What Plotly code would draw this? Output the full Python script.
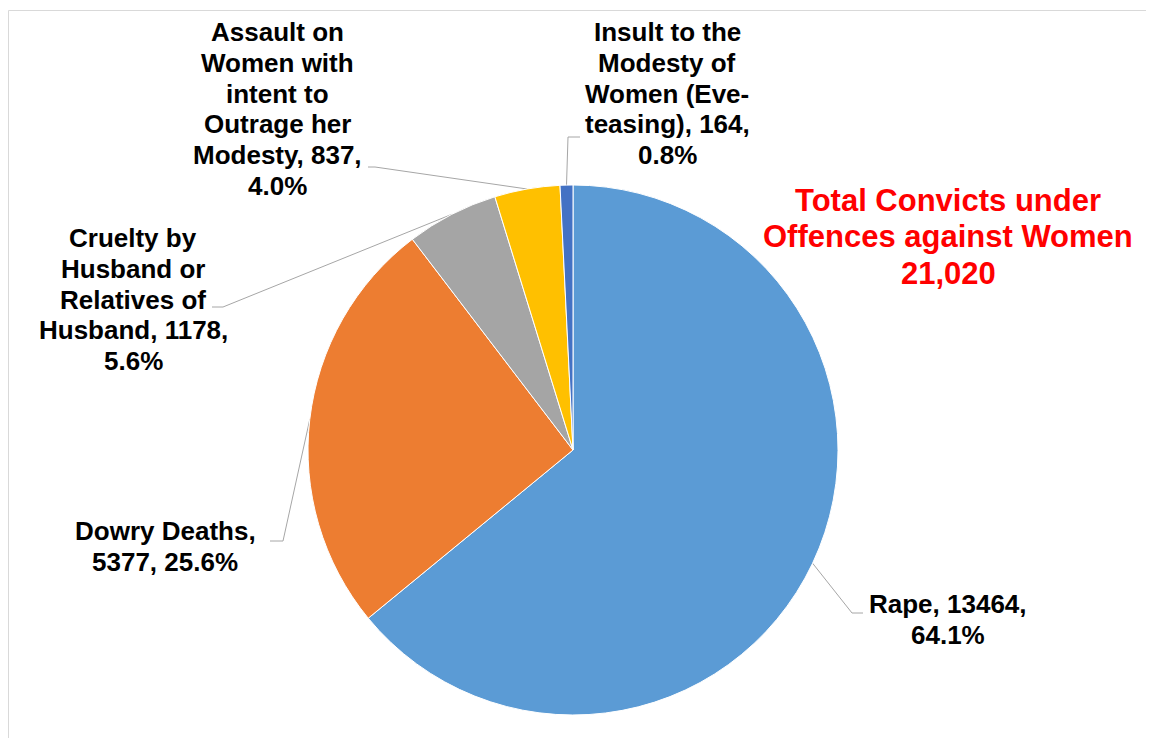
import math

import plotly.graph_objects as go

# Data
categories = [
    "Rape",
    "Dowry Deaths",
    "Cruelty by Husband or Relatives of Husband",
    "Assault on Women with intent to Outrage her Modesty",
    "Insult to the Modesty of Women (Eve-teasing)",
]
convicts = [13464, 5377, 1178, 837, 164]
label_lines = [
    ["Rape, 13464,", "64.1%"],
    ["Dowry Deaths,", "5377, 25.6%"],
    ["Cruelty by", "Husband or", "Relatives of", "Husband, 1178,", "5.6%"],
    ["Assault on", "Women with", "intent to", "Outrage her", "Modesty, 837,", "4.0%"],
    ["Insult to the", "Modesty of", "Women (Eve-", "teasing), 164,", "0.8%"],
]
total_lines = ["Total Convicts under", "Offences against Women", "21,020"]
colors = ["#5B9BD5", "#ED7D31", "#A5A5A5", "#FFC000", "#4472C4"]

# page is 1154x746, the browser body adds an 8px margin round the figure
PAGE_W, PAGE_H, PAD = 1154, 746, 8
W, H = PAGE_W - 2 * PAD, PAGE_H - 2 * PAD
CX, CY, R = 573, 450, 265
FONT = "Liberation Sans, Arial"

# label placement in page pixels: x centre, first line y, line step
label_pos = [
    (948, 604, 31),
    (165, 531, 31),
    (133, 238, 30.8),
    (277, 32, 30.8),
    (667, 32, 30.8),
]
elbows = [
    ((852, 613), (863, 613)),
    ((283, 541), (270, 541)),
    ((223, 307), (212, 307)),
    ((375, 167), (368, 167)),
    ((568, 137), (580, 137)),
]

fig = go.Figure()

fig.add_trace(
    go.Pie(
        labels=categories,
        values=convicts,
        sort=False,
        direction="clockwise",
        rotation=0,
        textinfo="none",
        hoverinfo="label+value+percent",
        marker={"colors": colors, "line": {"color": "white", "width": 1}},
        domain={
            "x": [(CX - R - PAD) / W, (CX + R - PAD) / W],
            "y": [(PAGE_H - PAD - CY - R) / H, (PAGE_H - PAD - CY + R) / H],
        },
        showlegend=False,
    )
)

# leader lines start on the rim at each slice's mid-angle
total = sum(convicts)
cum = 0
for i, v in enumerate(convicts):
    mid = (cum + v / 2) / total * 2 * math.pi
    cum += v
    x0 = CX + R * math.sin(mid)
    y0 = CY - R * math.cos(mid)
    (ex, ey), (lx, ly) = elbows[i]
    fig.add_trace(
        go.Scatter(
            x=[x0, ex, lx],
            y=[y0, ey, ly],
            mode="lines",
            line={"color": "#A6A6A6", "width": 1},
            hoverinfo="skip",
            showlegend=False,
        )
    )
    tx, ty, step = label_pos[i]
    for k, line in enumerate(label_lines[i]):
        fig.add_annotation(
            x=tx,
            y=ty + k * step,
            text=f"<b>{line}</b>",
            showarrow=False,
            xanchor="center",
            yanchor="middle",
            font={"family": FONT, "size": 26, "color": "black"},
        )

for k, line in enumerate(total_lines):
    fig.add_annotation(
        x=948,
        y=200 + k * 36.5,
        text=f"<b>{line}</b>",
        showarrow=False,
        xanchor="center",
        yanchor="middle",
        font={"family": FONT, "size": 31, "color": "#FF0000"},
    )

# chart border: only the left and top edges are inside the crop
border = {"color": "#D9D9D9", "width": 1}
fig.add_shape(type="line", xref="paper", yref="paper",
              x0=0.5 / W, x1=0.5 / W, y0=0, y1=1 - 2.5 / H, line=border, layer="below")
fig.add_shape(type="line", xref="paper", yref="paper",
              x0=0.5 / W, x1=1, y0=1 - 2.5 / H, y1=1 - 2.5 / H, line=border, layer="below")

fig.update_xaxes(range=[PAD, PAD + W], visible=False, fixedrange=True)
fig.update_yaxes(range=[PAD + H, PAD], visible=False, fixedrange=True)
fig.update_layout(
    width=W,
    height=H,
    margin={"l": 0, "r": 0, "t": 0, "b": 0},
    paper_bgcolor="white",
    plot_bgcolor="rgba(0,0,0,0)",
)

fig.write_html("out.html")
